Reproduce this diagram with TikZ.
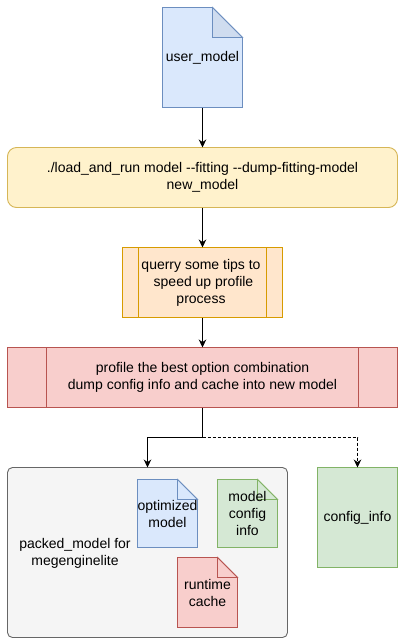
\documentclass[tikz,border=0pt]{standalone}
\usepackage{fontspec}
\setmainfont{Liberation Sans}
\usetikzlibrary{arrows.meta, calc}
\definecolor{dioblue}{HTML}{DAE8FC}
\definecolor{dioblueL}{HTML}{6C8EBF}
\definecolor{dioblueF}{HTML}{CFDCEF}
\definecolor{dioyellow}{HTML}{FFF2CC}
\definecolor{dioyellowL}{HTML}{D6B656}
\definecolor{dioorange}{HTML}{FFE6CC}
\definecolor{dioorangeL}{HTML}{D79B00}
\definecolor{diored}{HTML}{F8CECC}
\definecolor{dioredL}{HTML}{B85450}
\definecolor{diogreen}{HTML}{D5E8D4}
\definecolor{diogreenL}{HTML}{82B366}
\definecolor{diogray}{HTML}{F5F5F5}
\definecolor{diograyL}{HTML}{666666}
% #1 name, #2 x, #3 y, #4 w, #5 h, #6 fold, #7 colours, #8 text
\newcommand{\docnote}[8]{
  \draw[#7] (#2,#3) -- ++({#4-#6},0) -- ++(#6,#6) -- ++(0,{#5-#6}) -- ++(-#4,0) -- cycle;
  \draw[#7,notefold] ({#2+#4-#6},#3) -- ++(0,#6) -- ++(#6,0) -- cycle;
  \node[tag, minimum width=#4, minimum height=#5] (#1) at ({#2+#4/2},{#3+#5/2}) {#8};
}

\begin{document}
\begin{tikzpicture}[
  x=1pt, y=-1pt,
  font=\fontsize{14}{17}\selectfont,
  >={Stealth[length=8pt,width=7.5pt]},
  line width=0.9pt,
  tag/.style={align=center, inner sep=0pt, outer sep=0pt},
  box/.style={tag, draw, minimum height=60},
  noteblue/.style={draw=dioblueL, fill=dioblue},
  notegreen/.style={draw=diogreenL, fill=diogreen},
  notered/.style={draw=dioredL, fill=diored},
  notefold/.style={},
  link/.style={->, line width=1pt},
  dashlink/.style={->, line width=0.8pt, dash pattern=on 3pt off 2pt},
]
\useasboundingbox (0,0) rectangle (402,641);

% input model
\begin{scope}[notefold/.style={fill=dioblueF}]
\docnote{usermodel}{162.5}{7.5}{80}{100}{30}{noteblue}{user\_model}
\end{scope}

% load_and_run
\node[box, draw=dioyellowL, fill=dioyellow, rounded corners=9pt, minimum width=390] (loadrun) at (202.5,177.5)
  {./load\_and\_run model -{}-fitting -{}-dump-fitting-model\\new\_model};

% tips
\node[box, draw=dioorangeL, fill=dioorange, minimum width=160, minimum height=70] (tips) at (202.5,282.5) {};
\draw[dioorangeL] ($(tips.north west)+(16,0)$) -- ($(tips.south west)+(16,0)$);
\draw[dioorangeL] ($(tips.north east)+(-16,0)$) -- ($(tips.south east)+(-16,0)$);
\node[tag] (tipstext) at (201,282.5) {querry some tips to\\\hspace{5pt}speed up profile\\process\hspace{4pt}};

% profile
\node[box, draw=dioredL, fill=diored, minimum width=390] (profile) at (202.5,377.5)
  {profile the best option combination\\dump config info and cache into new model};
\draw[dioredL] ($(profile.north west)+(39,0)$) -- ($(profile.south west)+(39,0)$);
\draw[dioredL] ($(profile.north east)+(-39,0)$) -- ($(profile.south east)+(-39,0)$);

% packed model
\node[box, draw=diograyL, fill=diogray, rounded corners=5pt, minimum width=280, minimum height=170] (packed) at (147.5,552.5) {};
\node[tag] (packedtext) at (75,553) {packed\_model for\\megenginelite};
\docnote{optimized}{137.5}{479.5}{60}{68}{20}{noteblue}{optimized\\model}
\docnote{modelconfig}{217.5}{479.5}{60}{68}{20}{notegreen}{model\\config\\info}
\docnote{runtimecache}{177.5}{557.5}{60}{70}{20}{notered}{runtime\\cache}

% config info
\node[box, draw=diogreenL, fill=diogreen, minimum width=80, minimum height=100] (configinfo) at (357.5,517.5) {config\_info};

% arrows
\draw[link] (usermodel) -- (loadrun);
\draw[link] (loadrun) -- (tips);
\draw[link] (tips) -- (profile);
\coordinate (split) at (202.5,437.5);
\draw[dashlink] (split) -| (configinfo.north);
\draw[link] (profile.south) -- (split) -| (packed.north);
\end{tikzpicture}
\end{document}
